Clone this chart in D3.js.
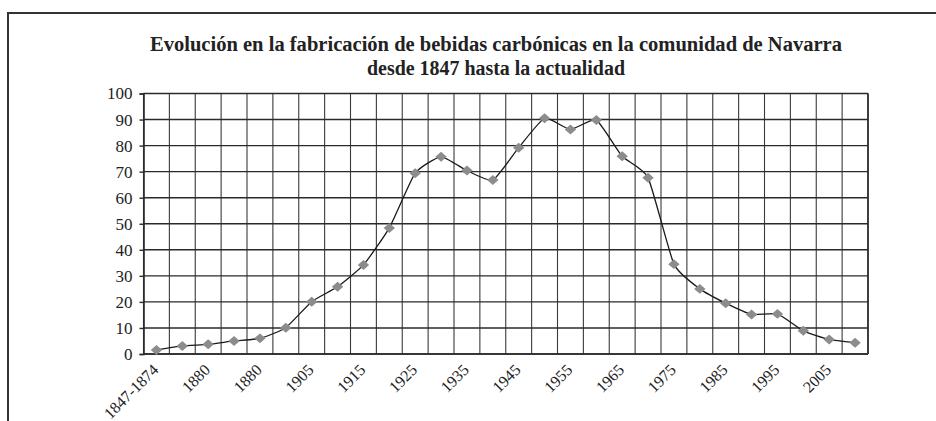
<!DOCTYPE html>
<html>
<head>
<meta charset="utf-8">
<script src="https://cdn.jsdelivr.net/npm/d3@7"></script>
<style>
  html, body { margin: 0; padding: 0; background: #fff; }
  svg { display: block; }
  text { font-family: "Liberation Serif", "DejaVu Serif", serif; fill: #222; }
</style>
</head>
<body>
<svg id="chart" width="936" height="421"></svg>
<script>
// ---- data ----
const titleLines = [
  "Evolución en la fabricación de bebidas carbónicas en la comunidad de Navarra",
  "desde 1847 hasta la actualidad"
];
const values = [1.5, 3.1, 3.7, 5.0, 6.0, 10.1, 20.1, 25.8, 34.2, 48.4,
                69.4, 75.7, 70.4, 66.8, 79.2, 90.5, 86.2, 89.8, 75.9, 67.7,
                34.5, 25.0, 19.5, 15.2, 15.4, 8.9, 5.6, 4.3];
const tickLabels = ["1847-1874", "1880", "1880", "1905", "1915", "1925", "1935",
                    "1945", "1955", "1965", "1975", "1985", "1995", "2005"];
const yTicks = [0, 10, 20, 30, 40, 50, 60, 70, 80, 90, 100];

// ---- layout ----
const svg = d3.select("#chart");
const pLeft = 143.5, pRight = 868, pTop = 93.5, pBottom = 354;

const x = d3.scaleBand().domain(d3.range(values.length)).range([pLeft, pRight]).padding(0);
const y = d3.scaleLinear().domain([0, 100]).range([pBottom, pTop]);

// frame
svg.append("line").attr("x1", 8).attr("x2", 8).attr("y1", 12).attr("y2", 421)
  .attr("stroke", "#333").attr("stroke-width", 2);
svg.append("line").attr("x1", 7).attr("x2", 936).attr("y1", 13).attr("y2", 13)
  .attr("stroke", "#333").attr("stroke-width", 2);

// title
const title = svg.append("text").attr("text-anchor", "middle")
  .attr("font-weight", "bold").attr("font-size", 20);
const titleWidths = [692, 258];
titleLines.forEach((t, i) => {
  title.append("tspan").attr("x", 496).attr("y", 51 + i * 23.5)
    .attr("textLength", titleWidths[i]).attr("lengthAdjust", "spacingAndGlyphs")
    .text(t);
});

// vertical gridlines at category boundaries
const boundaries = d3.range(values.length + 1).map(i => pLeft + i * x.bandwidth());
svg.append("g").selectAll("line").data(boundaries).join("line")
  .attr("x1", d => d).attr("x2", d => d)
  .attr("y1", pTop).attr("y2", pBottom)
  .attr("stroke", "#3a3a3a").attr("stroke-width", 1.1);

// horizontal gridlines
svg.append("g").selectAll("line").data(yTicks).join("line")
  .attr("x1", pLeft).attr("x2", pRight)
  .attr("y1", d => y(d)).attr("y2", d => y(d))
  .attr("stroke", "#2a2a2a").attr("stroke-width", 1.4);

// y axis
const yAxis = svg.append("g").attr("transform", `translate(${pLeft},0)`)
  .call(d3.axisLeft(y).tickValues(yTicks).tickSize(4).tickPadding(7));
yAxis.select(".domain").attr("stroke", "#2a2a2a").attr("stroke-width", 1.6);
yAxis.selectAll(".tick line").attr("stroke", "#2a2a2a").attr("stroke-width", 1.4);
yAxis.selectAll(".tick text").attr("font-size", 17)
  .attr("font-family", '"Liberation Serif", serif').attr("fill", "#222");

// right border
svg.append("line").attr("x1", pRight).attr("x2", pRight).attr("y1", pTop).attr("y2", pBottom)
  .attr("stroke", "#2a2a2a").attr("stroke-width", 1.6);
// bottom axis line
svg.append("line").attr("x1", pLeft).attr("x2", pRight).attr("y1", pBottom).attr("y2", pBottom)
  .attr("stroke", "#2a2a2a").attr("stroke-width", 1.6);

// x labels (every other category)
svg.append("g").selectAll("text").data(tickLabels).join("text")
  .attr("transform", (d, i) => {
    const cx = x(i * 2) + x.bandwidth() / 2;
    return `translate(${cx - 1},${pBottom + 13}) rotate(-45)`;
  })
  .attr("text-anchor", "end")
  .attr("dy", "0.35em")
  .attr("font-size", 16)
  .text(d => d);

// line
const line = d3.line()
  .x((d, i) => x(i) + x.bandwidth() / 2)
  .y(d => y(d))
  .curve(d3.curveCardinal.tension(0.5));
svg.append("path").datum(values)
  .attr("d", line)
  .attr("fill", "none").attr("stroke", "#1a1a1a").attr("stroke-width", 1.3);

// markers
svg.append("g").selectAll("path").data(values).join("path")
  .attr("d", d3.symbol().type(d3.symbolDiamond2 || d3.symbolDiamond).size(75))
  .attr("transform", (d, i) => `translate(${x(i) + x.bandwidth() / 2},${y(d)}) scale(1.05,0.92)`)
  .attr("fill", "#8c8c8c");
</script>
</body>
</html>
